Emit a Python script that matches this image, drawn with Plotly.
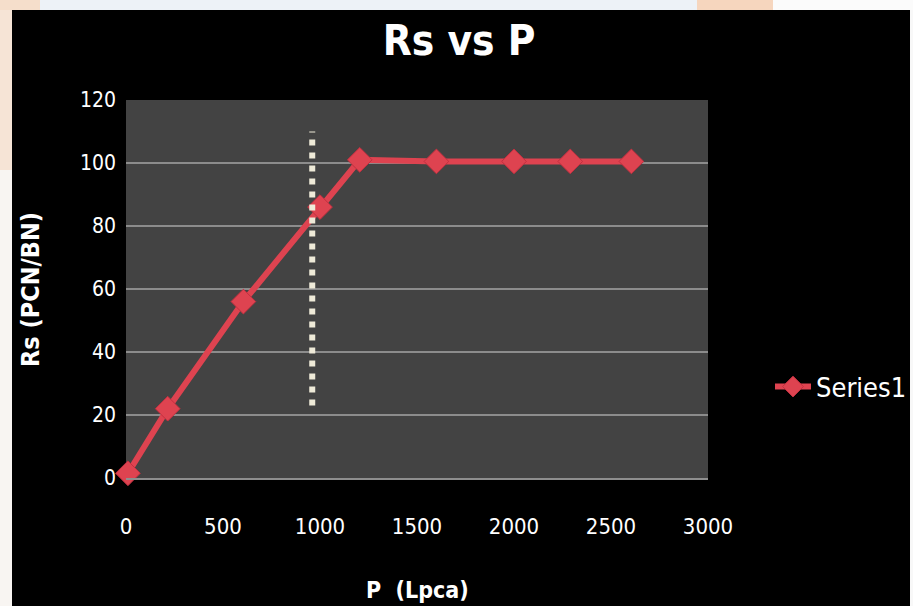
import plotly.graph_objects as go

# Solution gas-oil ratio vs pressure
pressure_lpca = [10, 215, 605, 1000, 1205, 1600, 2000, 2290, 2605]
rs_pcn_bn = [1.5, 22, 56, 86, 101, 100.5, 100.5, 100.5, 100.5]

# Dotted marker for the bubble point region
bubble_p = 960
bubble_rs_span = [23, 110]

x_ticks = [0, 500, 1000, 1500, 2000, 2500, 3000]
y_ticks = [0, 20, 40, 60, 80, 100, 120]

W, H = 913, 606
L, R, T, B = 126, 708, 100, 478  # plot-area pixel box

FONT = "DejaVu Sans Condensed, DejaVu Sans, sans-serif"
LINE_COLOR = "#DE4350"


def px_x(px):
    return (px - L) / (R - L)


def px_y(py):
    return (B - py) / (B - T)


fig = go.Figure()

fig.add_trace(go.Scatter(
    x=pressure_lpca, y=rs_pcn_bn,
    mode="lines+markers",
    name="Series1",
    line=dict(color=LINE_COLOR, width=6),
    marker=dict(symbol="diamond", size=19, color=LINE_COLOR,
                line=dict(color="#C23040", width=1)),
    cliponaxis=False,
))

shapes = [
    # slide background showing around the dark panel
    dict(type="rect", xref="paper", yref="paper", x0=px_x(0), x1=px_x(W),
         y0=px_y(10), y1=px_y(0), fillcolor="#EDF2F7", line_width=0, layer="below"),
    dict(type="rect", xref="paper", yref="paper", x0=px_x(0), x1=px_x(40),
         y0=px_y(10), y1=px_y(0), fillcolor="#F5DECB", line_width=0, layer="below"),
    dict(type="rect", xref="paper", yref="paper", x0=px_x(697), x1=px_x(773),
         y0=px_y(10), y1=px_y(0), fillcolor="#F6D6BE", line_width=0, layer="below"),
    dict(type="rect", xref="paper", yref="paper", x0=px_x(773), x1=px_x(W),
         y0=px_y(10), y1=px_y(0), fillcolor="#FBFBFB", line_width=0, layer="below"),
    dict(type="rect", xref="paper", yref="paper", x0=px_x(0), x1=px_x(12),
         y0=px_y(H), y1=px_y(10), fillcolor="#F8F5F2", line_width=0, layer="below"),
    dict(type="rect", xref="paper", yref="paper", x0=px_x(0), x1=px_x(12),
         y0=px_y(170), y1=px_y(10), fillcolor="#F6E4D6", line_width=0, layer="below"),
    dict(type="rect", xref="paper", yref="paper", x0=px_x(910), x1=px_x(W),
         y0=px_y(H), y1=px_y(10), fillcolor="#F8F8F8", line_width=0, layer="below"),
    # dotted vertical marker
    dict(type="line", xref="x", yref="y",
         x0=bubble_p, x1=bubble_p, y0=bubble_rs_span[0], y1=bubble_rs_span[1],
         line=dict(color="#EEEAD8", width=6, dash="6px,7px"), layer="above"),
]

annotations = [
    dict(text="<b>Rs (PCN/BN)</b>", xref="paper", yref="paper",
         x=px_x(30), y=px_y(290), textangle=-90, showarrow=False,
         font=dict(family=FONT, size=25, color="white"),
         xanchor="center", yanchor="middle"),
    dict(text="<b>P  (Lpca)</b>", xref="paper", yref="paper",
         x=px_x(417), y=px_y(590), showarrow=False,
         font=dict(family=FONT, size=23, color="white"),
         xanchor="center", yanchor="middle"),
]

fig.update_layout(
    width=W, height=H,
    margin=dict(l=L, r=W - R, t=T, b=H - B, pad=0, autoexpand=False),
    paper_bgcolor="black",
    plot_bgcolor="#434343",
    title=dict(text="<b>Rs vs P</b>", xref="container", x=459 / W, xanchor="center",
               yref="container", y=1 - 40 / H, yanchor="middle",
               font=dict(family=FONT, size=42, color="white")),
    font=dict(family=FONT, color="white"),
    showlegend=True,
    legend=dict(x=px_x(770), y=px_y(387), xanchor="left", yanchor="middle",
                bgcolor="rgba(0,0,0,0)", font=dict(family=FONT, size=27, color="white"),
                itemwidth=36),
    shapes=shapes,
    annotations=annotations,
)

fig.update_xaxes(
    range=[0, 3000], tickvals=x_ticks, ticktext=[str(v) for v in x_ticks],
    showgrid=False, zeroline=False,
    showline=True, linecolor="#8E8E8E", linewidth=1.5,
    ticks="", ticklabelstandoff=28,
    tickfont=dict(family=FONT, size=22, color="white"),
)
fig.update_yaxes(
    range=[0, 120], tickvals=y_ticks, ticktext=[str(v) for v in y_ticks],
    showgrid=True, gridcolor="#8C8C8C", gridwidth=1.5,
    zeroline=False, showline=False,
    ticks="", ticklabelstandoff=9,
    tickfont=dict(family=FONT, size=21, color="white"),
)

fig.write_html("out.html")
